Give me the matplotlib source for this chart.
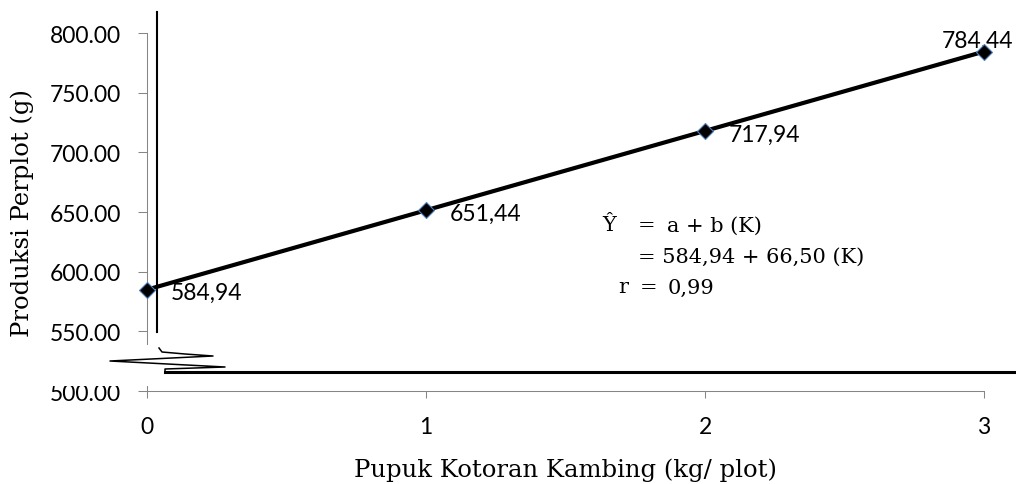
import matplotlib
matplotlib.use("Agg")
import matplotlib.pyplot as plt
from matplotlib.transforms import Affine2D
from matplotlib.patches import Rectangle

# data
dosis = [0, 1, 2, 3]
produksi = [584.94, 651.44, 717.94, 784.44]
x_ticks = [0, 1, 2, 3]
y_ticks = [500, 550, 600, 650, 700, 750, 800]
x_label = "Pupuk Kotoran Kambing (kg/ plot)"
y_label = "Produksi Perplot (g)"

W, H = 1016, 485
fig = plt.figure(figsize=(W / 100, H / 100), dpi=100)
ax = fig.add_axes([147 / W, 1 - 392 / H, (984 - 147) / W, (392 - 34) / H])

# pixel coords of the reference image (origin top-left) -> figure
pix = Affine2D().scale(1, -1).translate(0, H).scale(1 / W, 1 / H) + fig.transFigure

gray = "#868686"
tick_font = dict(family="Lato", size=16.5)
serif = "DejaVu Serif"

ax.plot(dosis, produksi, color="black", lw=3, marker="D", markersize=8,
        markerfacecolor="black", markeredgecolor="#4F81BD", markeredgewidth=0.8,
        clip_on=False, zorder=6)

for i, (xv, yv) in enumerate(zip(dosis, produksi)):
    txt = f"{yv:.2f}".replace(".", ",")
    if i == len(dosis) - 1:
        ax.annotate(txt, (xv, yv), xytext=(-5, 3.3), textcoords="offset points",
                    ha="center", va="baseline", fontsize=16.5, family="Lato",
                    annotation_clip=False)
    else:
        ax.annotate(txt, (xv, yv), xytext=(17, -6.8), textcoords="offset points",
                    ha="left", va="baseline", fontsize=16.5, family="Lato",
                    annotation_clip=False)

ax.set_xlim(0, 3)
ax.set_ylim(500, 800)
ax.set_xticks(x_ticks)
ax.set_xticklabels([str(v) for v in x_ticks], **tick_font)
ax.set_yticks(y_ticks)
ax.set_yticklabels([f"{v:.2f}" for v in y_ticks], **tick_font)
ax.tick_params(axis="y", direction="out", length=6.5, width=0.75, color=gray, pad=12)
ax.tick_params(axis="x", direction="out", length=5, width=0.75, color=gray, pad=13)
for s in ["top", "right"]:
    ax.spines[s].set_visible(False)
for s in ["left", "bottom"]:
    ax.spines[s].set_color(gray)
    ax.spines[s].set_linewidth(0.75)

fig.text(22 / W, 1 - 213 / H, y_label, rotation=90, ha="center", va="center",
         family=serif, fontsize=17.5)
fig.text(565 / W, 1 - 470 / H, x_label, ha="center", va="center",
         family=serif, fontsize=17.5)

# regression equation
eq = dict(family=serif, fontsize=15, va="center", transform=pix)
fig.text(602, 226, "Ŷ", **eq)
fig.text(638, 226, "=", **eq)
fig.text(667, 226, "a + b (K)", **eq)
fig.text(638, 257, "= 584,94 + 66,50 (K)", **eq)
fig.text(618, 288, "r", **eq)
fig.text(640, 288, "=", **eq)
fig.text(668, 288, "0,99", **eq)

# axis break decoration (white area hides part of the axis and the 500 label)
ax.add_patch(Rectangle((139, 346), 16, 41, transform=pix, facecolor="white",
                       edgecolor="none", clip_on=False, zorder=4))
ax.add_patch(Rectangle((40, 370), 100, 17, transform=pix, facecolor="white",
                       edgecolor="none", clip_on=False, zorder=4))
ax.plot([156.7, 156.7], [13, 333], color="black", lw=1.5, transform=pix,
        clip_on=False, zorder=5)
brk_x = [159, 162, 185, 213, 110, 225, 195, 165, 165]
brk_y = [349, 353, 355, 357, 362, 368, 369, 370, 373]
ax.plot(brk_x, brk_y, color="black", lw=1.1, transform=pix, clip_on=False,
        zorder=5, solid_joinstyle="round")
ax.plot([165, 1016], [373, 373], color="black", lw=2.2, transform=pix,
        clip_on=False, zorder=5)

fig.savefig("out.png", dpi=100, facecolor="white")
